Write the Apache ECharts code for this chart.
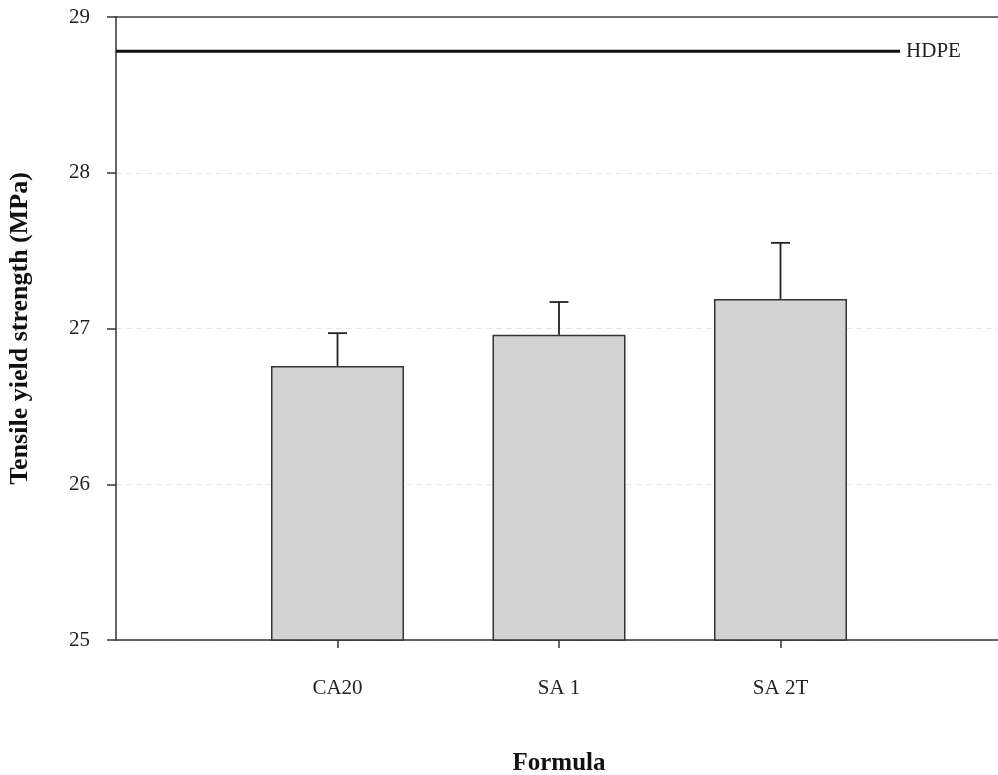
<!DOCTYPE html>
<html>
<head>
<meta charset="utf-8">
<script src="https://cdn.jsdelivr.net/npm/echarts@6/dist/echarts.min.js"></script>
<style>html,body{margin:0;padding:0;background:#fff;overflow:hidden;}#c{width:998px;height:775px;}</style>
</head>
<body>
<div id="c"></div>
<script>
const categories = ['', 'CA20', 'SA 1', 'SA 2T', ''];
const means = [null, 26.76, 26.96, 27.19, null];
const errors = [null, 0.21, 0.21, 0.36, null];
const hdpeValue = 28.78;
const hdpeEnd = 3.54;
const yTicks = [25, 26, 27, 28, 29];

const FONT = 'Liberation Serif';
const chart = echarts.init(document.getElementById('c'));

const errData = [];
for (let i = 0; i < categories.length; i++) {
  if (means[i] != null) errData.push([i, means[i], means[i] + errors[i]]);
}

chart.setOption({
  animation: false,
  backgroundColor: '#fff',
  grid: { left: 116, right: -4, top: 17, bottom: 135, containLabel: false, outerBoundsMode: 'none' },
  xAxis: [{
    type: 'category',
    data: categories,
    boundaryGap: false,
    name: 'Formula',
    nameLocation: 'middle',
    nameGap: 111,
    nameTextStyle: { fontFamily: FONT, fontWeight: 'bold', fontSize: 25, color: '#111' },
    axisLine: { lineStyle: { color: '#333', width: 1.5 } },
    axisTick: { show: true, length: 8, lineStyle: { color: '#333', width: 1.5 },
      interval: function (idx, val) { return val !== ''; } },
    axisLabel: { margin: 38, fontFamily: FONT, fontSize: 21, color: '#222',
      interval: function (idx, val) { return val !== ''; } },
    splitLine: { show: false }
  }, {
    type: 'category',
    data: categories,
    boundaryGap: false,
    position: 'top',
    axisLine: { show: true, lineStyle: { color: '#444', width: 1.5 } },
    axisTick: { show: false },
    axisLabel: { show: false },
    splitLine: { show: false }
  }],
  yAxis: {
    type: 'value',
    min: 25, max: 29, interval: 1,
    name: 'Tensile yield strength (MPa)',
    nameLocation: 'middle',
    nameGap: 83,
    nameTextStyle: { fontFamily: FONT, fontWeight: 'bold', fontSize: 26, color: '#111' },
    axisLine: { show: true, lineStyle: { color: '#333', width: 1.5 } },
    axisTick: { show: true, length: 9, lineStyle: { color: '#333', width: 1.5 } },
    axisLabel: { margin: 26, fontFamily: FONT, fontSize: 21, color: '#222',
      formatter: function (v) { return yTicks.indexOf(v) >= 0 ? String(v) : ''; } },
    splitLine: { show: true, lineStyle: { color: '#e6e6e6', width: 1, type: [6, 4] } }
  },
  series: [{
    type: 'bar',
    data: means,
    barWidth: 133,
    itemStyle: { color: '#d2d2d2', borderColor: '#333', borderWidth: 1.5 },
    z: 2
  }, {
    type: 'custom',
    data: errData,
    z: 3,
    renderItem: function (params, api) {
      const top = api.coord([api.value(0), api.value(2)]);
      const base = api.coord([api.value(0), api.value(1)]);
      const cap = 9.5;
      return {
        type: 'group',
        children: [
          { type: 'line', shape: { x1: base[0], y1: base[1], x2: top[0], y2: top[1] },
            style: { stroke: '#222', lineWidth: 1.8 } },
          { type: 'line', shape: { x1: top[0] - cap, y1: top[1], x2: top[0] + cap, y2: top[1] },
            style: { stroke: '#222', lineWidth: 1.8 } }
        ]
      };
    }
  }, {
    type: 'custom',
    data: [[0, hdpeValue]],
    z: 4,
    renderItem: function (params, api) {
      const start = api.coord([0, api.value(1)]);
      const step = api.size([1, 0])[0];
      const endX = start[0] + step * hdpeEnd;
      return {
        type: 'group',
        children: [
          { type: 'line', shape: { x1: start[0], y1: start[1], x2: endX, y2: start[1] },
            style: { stroke: '#111', lineWidth: 3 } },
          { type: 'text', x: endX + 6, y: start[1],
            style: { text: 'HDPE', fontFamily: FONT, fontSize: 21, fill: '#222',
              verticalAlign: 'middle', align: 'left' } }
        ]
      };
    }
  }]
});
</script>
</body>
</html>
